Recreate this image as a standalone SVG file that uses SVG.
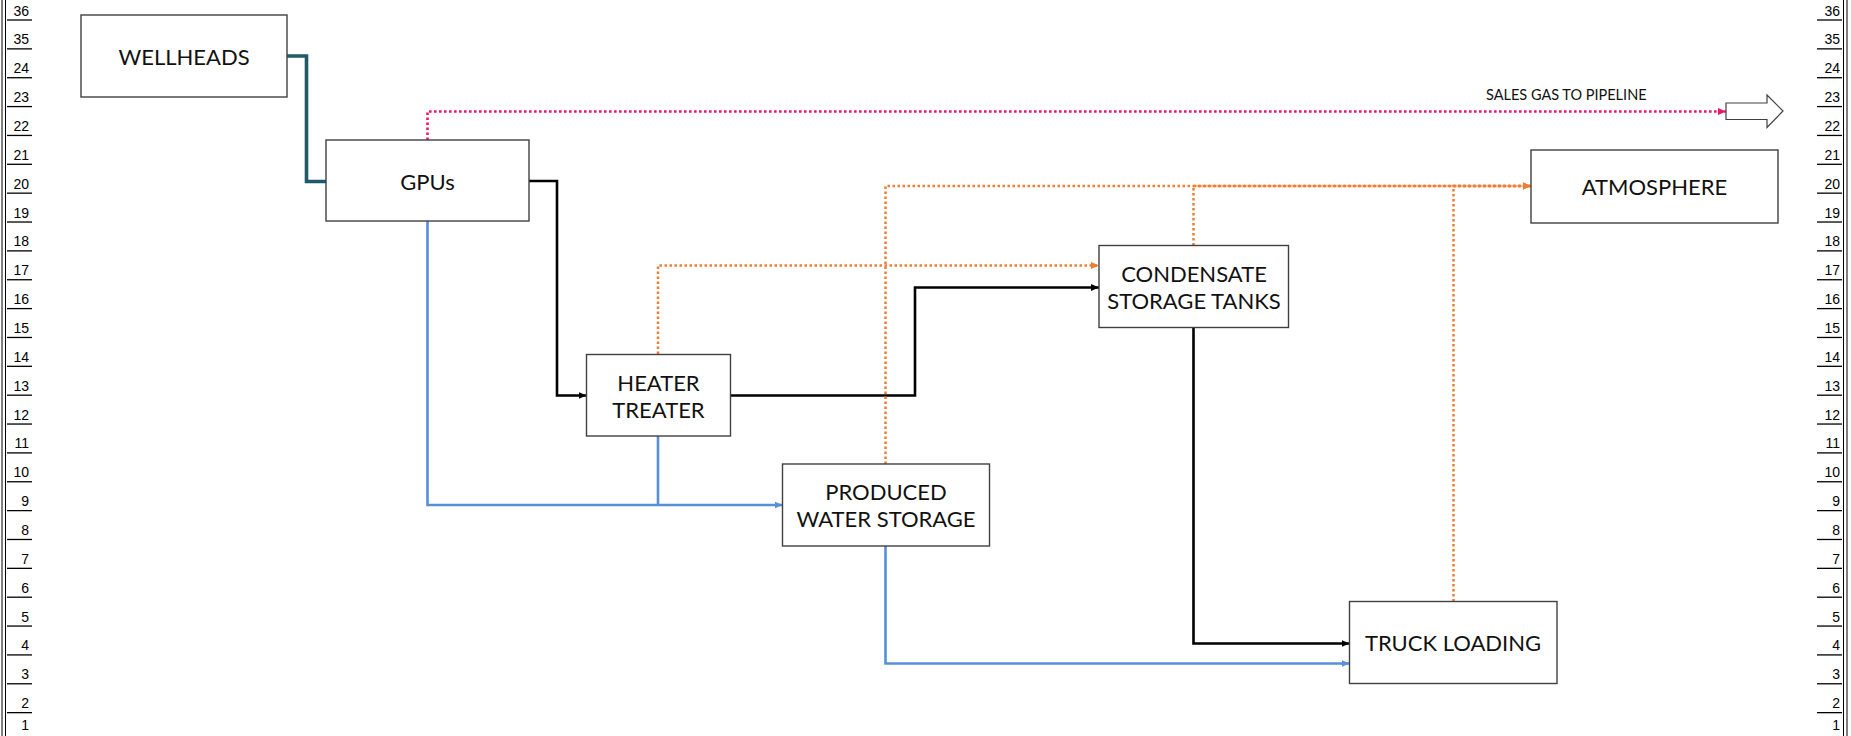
<svg xmlns="http://www.w3.org/2000/svg" width="1851" height="736" viewBox="0 0 1851 736">
<style>
.box{fill:#fff;stroke:#404040;stroke-width:1.4}
.lbl{font-family:Lato,"Gill Sans","Open Sans",sans-serif;font-size:22px;fill:#111;text-anchor:middle}
.rl{stroke:#000;stroke-width:1.3}
.rv{stroke:#000;stroke-width:1}
.rt{font-family:"Liberation Sans",Arial,sans-serif;font-size:14px;fill:#000;text-anchor:end}
.c{fill:none;stroke-linejoin:miter}
.blk{stroke:#000;stroke-width:2.6}
.blu{stroke:#5590D8;stroke-width:2.6}
.org{stroke:#ED7D31;stroke-width:2.5;stroke-dasharray:2.5 2.5}
.pnk{stroke:#F0146E;stroke-width:2.6;stroke-dasharray:2.6 2.4}
.tea{stroke:#1F5A69;stroke-width:3.6}
</style>
<defs>
<marker id="aBlk" viewBox="0 0 8 8" refX="8" refY="4" markerWidth="8" markerHeight="8" markerUnits="userSpaceOnUse" orient="auto"><path d="M0,0.5 L8,4 L0,7.5 z" fill="#000"/></marker>
<marker id="aBlu" viewBox="0 0 8 8" refX="8" refY="4" markerWidth="8" markerHeight="8" markerUnits="userSpaceOnUse" orient="auto"><path d="M0,0.5 L8,4 L0,7.5 z" fill="#5590D8"/></marker>
<marker id="aOrg" viewBox="0 0 8 8" refX="8" refY="4" markerWidth="8" markerHeight="8" markerUnits="userSpaceOnUse" orient="auto"><path d="M0,0.5 L8,4 L0,7.5 z" fill="#ED7D31"/></marker>
<marker id="aPnk" viewBox="0 0 8 8" refX="8" refY="4" markerWidth="8" markerHeight="8" markerUnits="userSpaceOnUse" orient="auto"><path d="M0,0.5 L8,4 L0,7.5 z" fill="#F0146E"/></marker>
</defs>
<rect width="1851" height="736" fill="#fff"/>

<g id="ruler-left">
<line class="rv" x1="2" y1="0" x2="2" y2="736"/>
<line class="rv" x1="5.5" y1="0" x2="5.5" y2="736"/>
<line class="rl" x1="7" y1="20" x2="32" y2="20"/><text class="rt" x="29" y="15.5">36</text>
<line class="rl" x1="7" y1="48.86" x2="32" y2="48.86"/><text class="rt" x="29" y="44.4">35</text>
<line class="rl" x1="7" y1="77.72" x2="32" y2="77.72"/><text class="rt" x="29" y="73.2">24</text>
<line class="rl" x1="7" y1="106.58" x2="32" y2="106.58"/><text class="rt" x="29" y="102.1">23</text>
<line class="rl" x1="7" y1="135.44" x2="32" y2="135.44"/><text class="rt" x="29" y="130.9">22</text>
<line class="rl" x1="7" y1="164.3" x2="32" y2="164.3"/><text class="rt" x="29" y="159.8">21</text>
<line class="rl" x1="7" y1="193.16" x2="32" y2="193.16"/><text class="rt" x="29" y="188.7">20</text>
<line class="rl" x1="7" y1="222.02" x2="32" y2="222.02"/><text class="rt" x="29" y="217.5">19</text>
<line class="rl" x1="7" y1="250.88" x2="32" y2="250.88"/><text class="rt" x="29" y="246.4">18</text>
<line class="rl" x1="7" y1="279.74" x2="32" y2="279.74"/><text class="rt" x="29" y="275.2">17</text>
<line class="rl" x1="7" y1="308.6" x2="32" y2="308.6"/><text class="rt" x="29" y="304.1">16</text>
<line class="rl" x1="7" y1="337.46" x2="32" y2="337.46"/><text class="rt" x="29" y="333">15</text>
<line class="rl" x1="7" y1="366.32" x2="32" y2="366.32"/><text class="rt" x="29" y="361.8">14</text>
<line class="rl" x1="7" y1="395.18" x2="32" y2="395.18"/><text class="rt" x="29" y="390.7">13</text>
<line class="rl" x1="7" y1="424.04" x2="32" y2="424.04"/><text class="rt" x="29" y="419.5">12</text>
<line class="rl" x1="7" y1="452.9" x2="32" y2="452.9"/><text class="rt" x="29" y="448.4">11</text>
<line class="rl" x1="7" y1="481.76" x2="32" y2="481.76"/><text class="rt" x="29" y="477.3">10</text>
<line class="rl" x1="7" y1="510.62" x2="32" y2="510.62"/><text class="rt" x="29" y="506.1">9</text>
<line class="rl" x1="7" y1="539.48" x2="32" y2="539.48"/><text class="rt" x="29" y="535">8</text>
<line class="rl" x1="7" y1="568.34" x2="32" y2="568.34"/><text class="rt" x="29" y="563.8">7</text>
<line class="rl" x1="7" y1="597.2" x2="32" y2="597.2"/><text class="rt" x="29" y="592.7">6</text>
<line class="rl" x1="7" y1="626.06" x2="32" y2="626.06"/><text class="rt" x="29" y="621.6">5</text>
<line class="rl" x1="7" y1="654.92" x2="32" y2="654.92"/><text class="rt" x="29" y="650.4">4</text>
<line class="rl" x1="7" y1="683.78" x2="32" y2="683.78"/><text class="rt" x="29" y="679.3">3</text>
<line class="rl" x1="7" y1="712.64" x2="32" y2="712.64"/><text class="rt" x="29" y="708.1">2</text>
<text class="rt" x="29" y="730">1</text>
</g>

<g id="ruler-right">
<line class="rv" x1="1843.5" y1="0" x2="1843.5" y2="736"/>
<line class="rv" x1="1847" y1="0" x2="1847" y2="736"/>
<line class="rl" x1="1817" y1="20" x2="1842" y2="20"/><text class="rt" x="1840" y="15.5">36</text>
<line class="rl" x1="1817" y1="48.86" x2="1842" y2="48.86"/><text class="rt" x="1840" y="44.4">35</text>
<line class="rl" x1="1817" y1="77.72" x2="1842" y2="77.72"/><text class="rt" x="1840" y="73.2">24</text>
<line class="rl" x1="1817" y1="106.58" x2="1842" y2="106.58"/><text class="rt" x="1840" y="102.1">23</text>
<line class="rl" x1="1817" y1="135.44" x2="1842" y2="135.44"/><text class="rt" x="1840" y="130.9">22</text>
<line class="rl" x1="1817" y1="164.3" x2="1842" y2="164.3"/><text class="rt" x="1840" y="159.8">21</text>
<line class="rl" x1="1817" y1="193.16" x2="1842" y2="193.16"/><text class="rt" x="1840" y="188.7">20</text>
<line class="rl" x1="1817" y1="222.02" x2="1842" y2="222.02"/><text class="rt" x="1840" y="217.5">19</text>
<line class="rl" x1="1817" y1="250.88" x2="1842" y2="250.88"/><text class="rt" x="1840" y="246.4">18</text>
<line class="rl" x1="1817" y1="279.74" x2="1842" y2="279.74"/><text class="rt" x="1840" y="275.2">17</text>
<line class="rl" x1="1817" y1="308.6" x2="1842" y2="308.6"/><text class="rt" x="1840" y="304.1">16</text>
<line class="rl" x1="1817" y1="337.46" x2="1842" y2="337.46"/><text class="rt" x="1840" y="333">15</text>
<line class="rl" x1="1817" y1="366.32" x2="1842" y2="366.32"/><text class="rt" x="1840" y="361.8">14</text>
<line class="rl" x1="1817" y1="395.18" x2="1842" y2="395.18"/><text class="rt" x="1840" y="390.7">13</text>
<line class="rl" x1="1817" y1="424.04" x2="1842" y2="424.04"/><text class="rt" x="1840" y="419.5">12</text>
<line class="rl" x1="1817" y1="452.9" x2="1842" y2="452.9"/><text class="rt" x="1840" y="448.4">11</text>
<line class="rl" x1="1817" y1="481.76" x2="1842" y2="481.76"/><text class="rt" x="1840" y="477.3">10</text>
<line class="rl" x1="1817" y1="510.62" x2="1842" y2="510.62"/><text class="rt" x="1840" y="506.1">9</text>
<line class="rl" x1="1817" y1="539.48" x2="1842" y2="539.48"/><text class="rt" x="1840" y="535">8</text>
<line class="rl" x1="1817" y1="568.34" x2="1842" y2="568.34"/><text class="rt" x="1840" y="563.8">7</text>
<line class="rl" x1="1817" y1="597.2" x2="1842" y2="597.2"/><text class="rt" x="1840" y="592.7">6</text>
<line class="rl" x1="1817" y1="626.06" x2="1842" y2="626.06"/><text class="rt" x="1840" y="621.6">5</text>
<line class="rl" x1="1817" y1="654.92" x2="1842" y2="654.92"/><text class="rt" x="1840" y="650.4">4</text>
<line class="rl" x1="1817" y1="683.78" x2="1842" y2="683.78"/><text class="rt" x="1840" y="679.3">3</text>
<line class="rl" x1="1817" y1="712.64" x2="1842" y2="712.64"/><text class="rt" x="1840" y="708.1">2</text>
<text class="rt" x="1840" y="730">1</text>
</g>

<g id="connectors">
<path class="c tea" d="M287,56 H306.5 V181.5 H326"/>
<path class="c pnk" d="M427.5,140 V111.5 H1726" marker-end="url(#aPnk)"/>
<path class="c blk" d="M529,181 H557 V395.5 H586.5" marker-end="url(#aBlk)"/>
<path class="c blu" d="M427.5,221 V505 H782.5" marker-end="url(#aBlu)"/>
<path class="c blu" d="M658,436 V505"/>
<path class="c org" d="M658,354 V265.5 H1099" marker-end="url(#aOrg)"/>
<path class="c blk" d="M731,395.5 H915 V287.5 H1099" marker-end="url(#aBlk)"/>
<path class="c org" d="M885.5,464 V186 H1531" marker-end="url(#aOrg)"/>
<path class="c org" d="M1193.5,245.5 V186 H1531" marker-end="url(#aOrg)"/>
<path class="c org" d="M1453.5,601.5 V186 H1531" marker-end="url(#aOrg)"/>
<path class="c blk" d="M1193.5,327.5 V643.5 H1349.5" marker-end="url(#aBlk)"/>
<path class="c blu" d="M885.5,546 V663.5 H1349.5" marker-end="url(#aBlu)"/>
</g>

<g id="wellheads"><rect class="box" x="81" y="15" width="206" height="82"/><text class="lbl" x="184" y="64.5">WELLHEADS</text></g>
<g id="gpus"><rect class="box" x="326" y="140" width="203" height="81"/><text class="lbl" x="427.5" y="189.5">GPUs</text></g>
<g id="heater-treater"><rect class="box" x="586.5" y="354.5" width="144" height="81.5"/><text class="lbl" x="658.5" y="391">HEATER</text><text class="lbl" x="658.5" y="417.5">TREATER</text></g>
<g id="condensate"><rect class="box" x="1099" y="245.5" width="189.5" height="82"/><text class="lbl" x="1194" y="281.5">CONDENSATE</text><text class="lbl" x="1194" y="308.5">STORAGE TANKS</text></g>
<g id="produced-water"><rect class="box" x="782.5" y="464" width="207" height="82"/><text class="lbl" x="886" y="500">PRODUCED</text><text class="lbl" x="886" y="527">WATER STORAGE</text></g>
<g id="truck-loading"><rect class="box" x="1349.5" y="601.5" width="207.5" height="82"/><text class="lbl" x="1453" y="651">TRUCK LOADING</text></g>
<g id="atmosphere"><rect class="box" x="1531" y="150" width="247" height="73"/><text class="lbl" x="1654.5" y="194.5">ATMOSPHERE</text></g>
<g id="sales-gas">
<text x="1486" y="100" style="font-family:Lato,'Open Sans',sans-serif;font-size:14.5px;fill:#111">SALES GAS TO PIPELINE</text>
<path d="M1726,103 H1767 V95 L1783,111 L1767,127.5 V119.5 H1726 Z" fill="#fff" stroke="#404040" stroke-width="1.2"/>
</g>
</svg>
